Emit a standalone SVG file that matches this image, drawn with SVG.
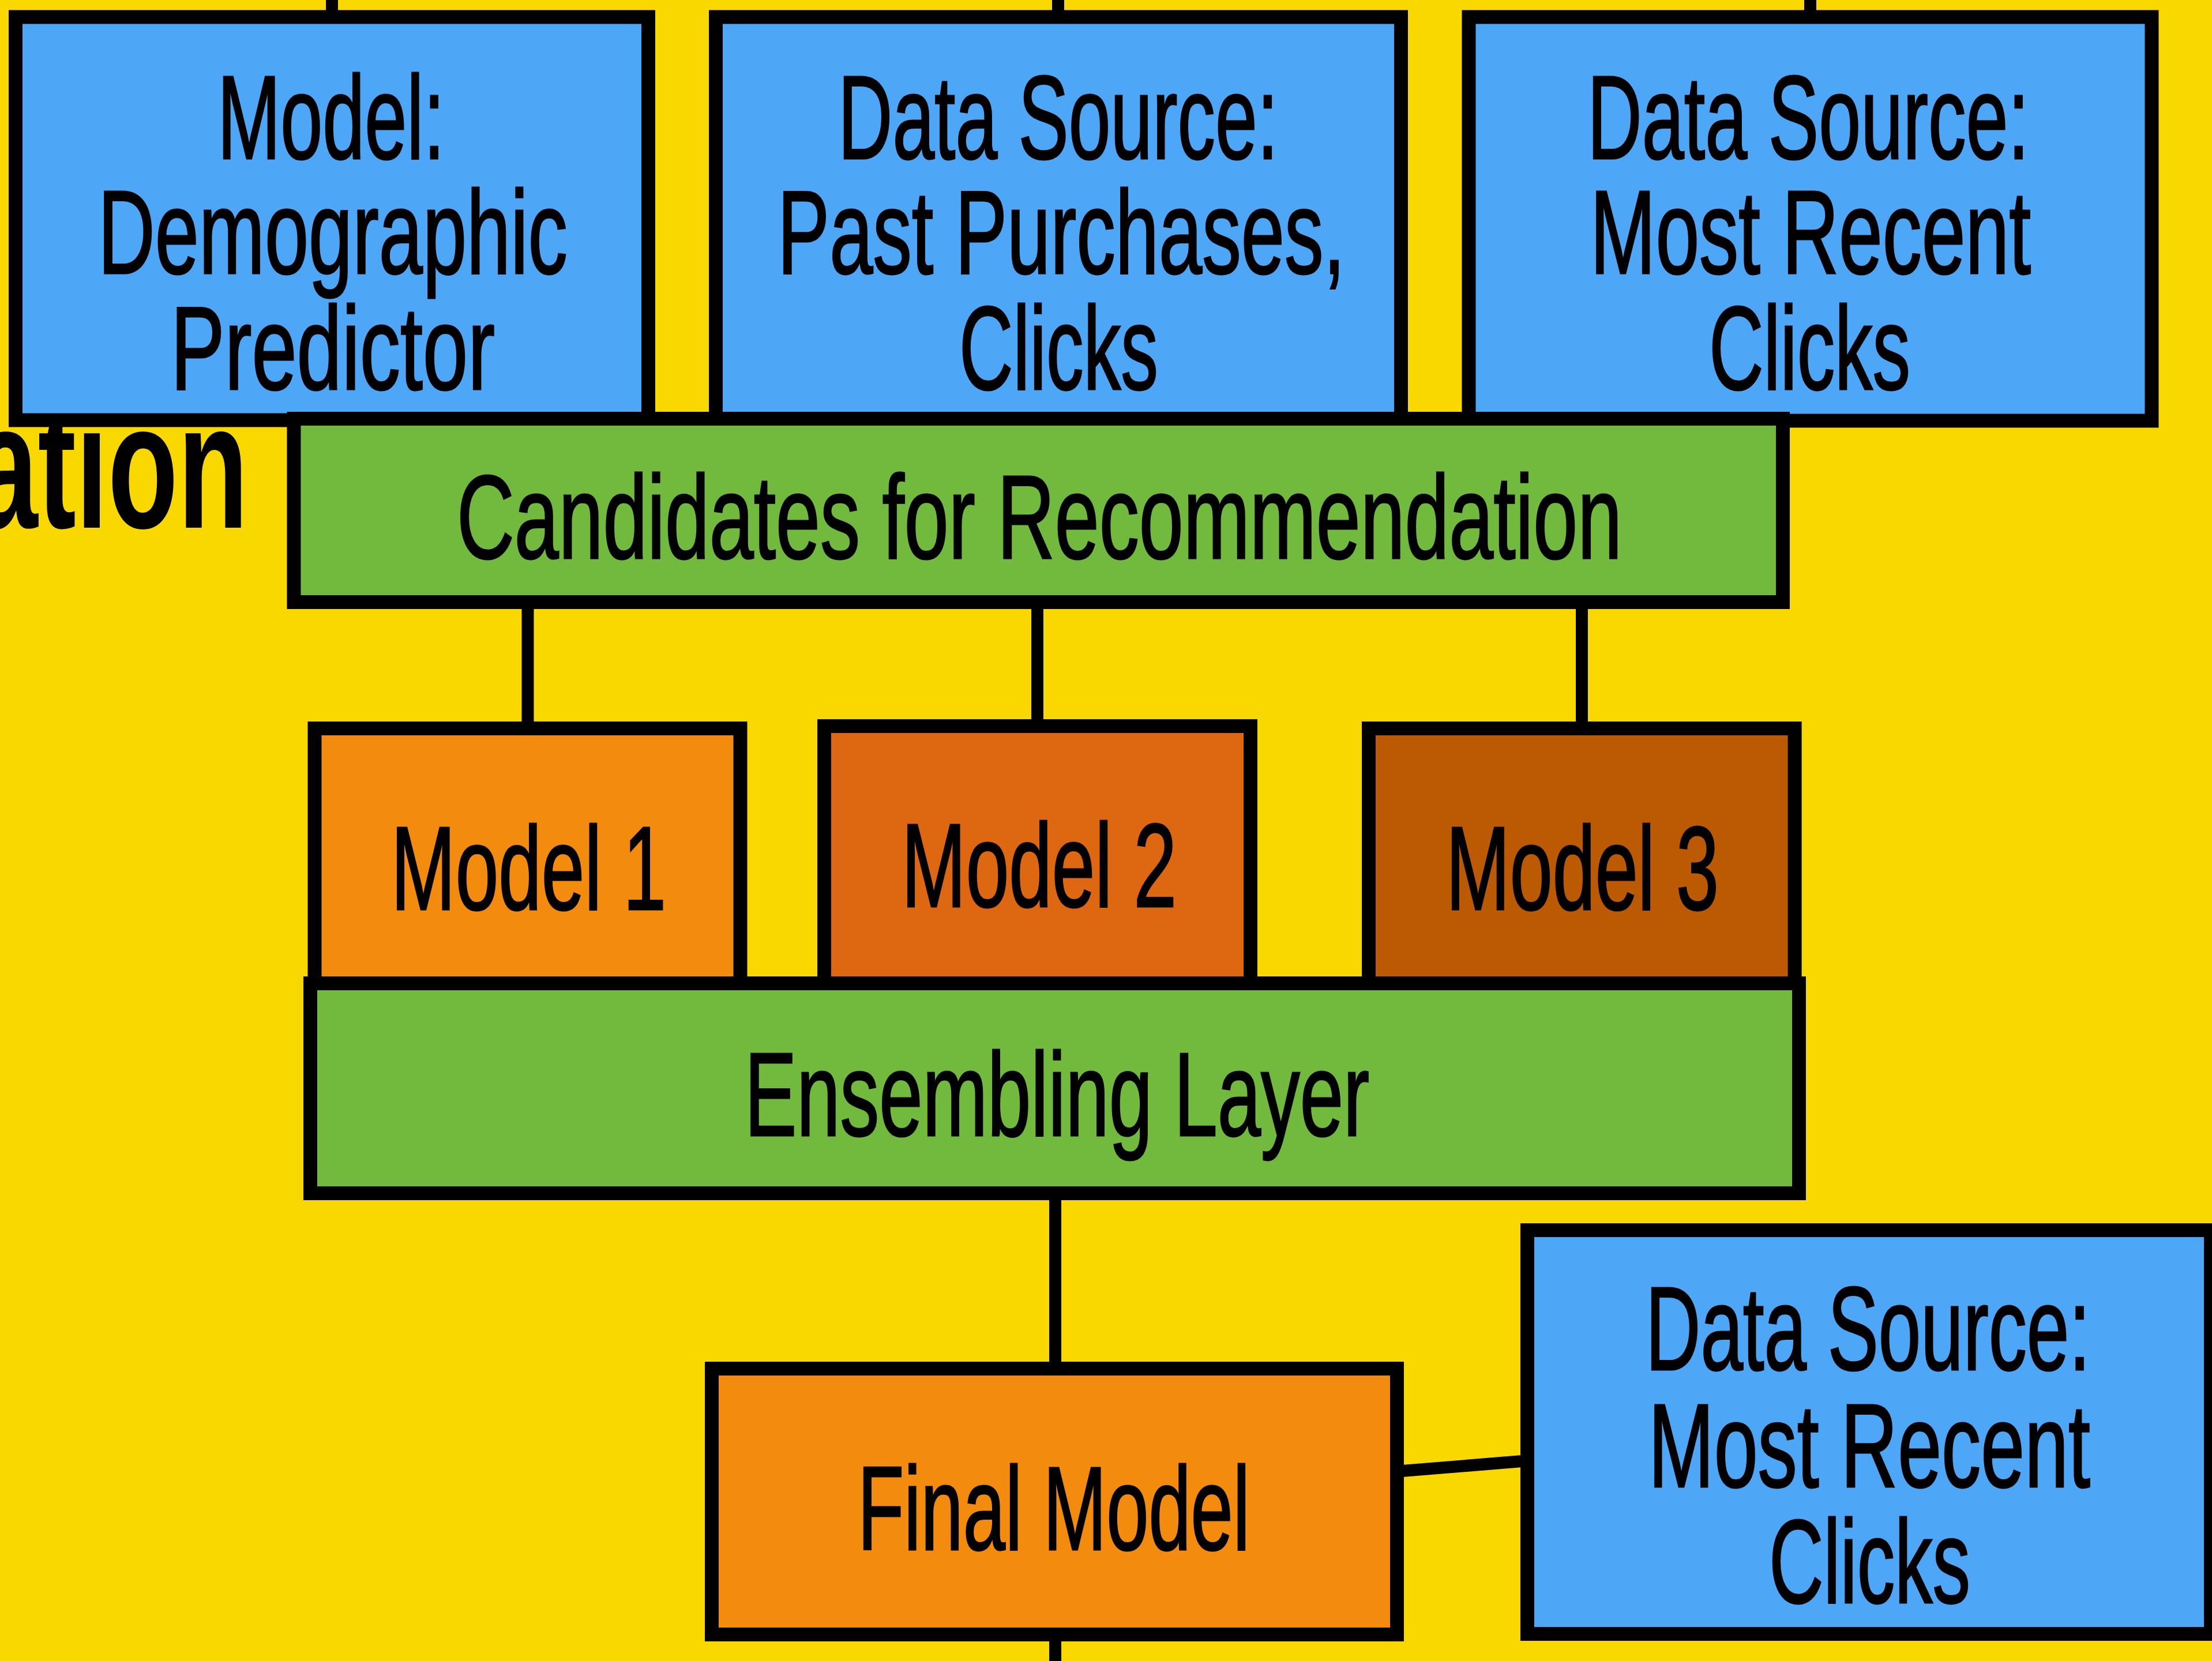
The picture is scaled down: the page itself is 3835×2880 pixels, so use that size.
<svg xmlns="http://www.w3.org/2000/svg" width="3835" height="2880" viewBox="0 0 3835 2880">
<style>
.bg{fill:#F9D800}
.box{stroke:#000;stroke-width:24}
.blue{fill:#4DA6F6}
.green{fill:#71BA3D}
.o1{fill:#F38B0E}
.o2{fill:#DD6811}
.o3{fill:#BC5A03}
.lbl{font-family:"Liberation Sans Narrow","Liberation Sans","DejaVu Sans Condensed",sans-serif;font-size:206px;fill:#000;stroke:#000;stroke-width:3}
.title{font-family:"Liberation Sans","DejaVu Sans",sans-serif;font-weight:bold;font-size:310px;fill:#000}
.conn line{stroke:#000;stroke-width:21}
</style>
<rect class="bg" x="0" y="0" width="3835" height="2880"/>
<text class="title" x="-45" y="915" textLength="475" lengthAdjust="spacingAndGlyphs">ation</text>
<g class="conn" id="connectors">
<line x1="575.5" y1="0" x2="575.5" y2="30"/>
<line x1="1834.5" y1="0" x2="1834.5" y2="30"/>
<line x1="3138.5" y1="0" x2="3138.5" y2="30"/>
<line x1="915" y1="1040" x2="915" y2="1265"/>
<line x1="1798.5" y1="1040" x2="1798.5" y2="1260"/>
<line x1="2742.5" y1="1040" x2="2742.5" y2="1265"/>
<line x1="1829.5" y1="2070" x2="1829.5" y2="2375"/>
<line x1="1829.5" y1="2830" x2="1829.5" y2="2880"/>
<line x1="2425" y1="2551" x2="2645" y2="2533"/>
</g>
<g id="model-demographic">
<rect class="box blue" x="27" y="29.5" width="1097" height="699"/>
<text class="lbl" x="377" y="275" textLength="394" lengthAdjust="spacingAndGlyphs">Model:</text>
<text class="lbl" x="170" y="474" textLength="814" lengthAdjust="spacingAndGlyphs">Demographic</text>
<text class="lbl" x="296" y="675" textLength="562" lengthAdjust="spacingAndGlyphs">Predictor</text>
</g>
<g id="ds-past-purchases">
<rect class="box blue" x="1241" y="29.5" width="1188" height="699"/>
<text class="lbl" x="1453" y="275" textLength="763" lengthAdjust="spacingAndGlyphs">Data Source:</text>
<text class="lbl" x="1348" y="474" textLength="984" lengthAdjust="spacingAndGlyphs">Past Purchases,</text>
<text class="lbl" x="1663" y="675" textLength="345" lengthAdjust="spacingAndGlyphs">Clicks</text>
</g>
<g id="ds-recent-clicks-top">
<rect class="box blue" x="2546.5" y="29.5" width="1184" height="700"/>
<text class="lbl" x="2752" y="275" textLength="766" lengthAdjust="spacingAndGlyphs">Data Source:</text>
<text class="lbl" x="2757" y="474" textLength="764" lengthAdjust="spacingAndGlyphs">Most Recent</text>
<text class="lbl" x="2963" y="675" textLength="349" lengthAdjust="spacingAndGlyphs">Clicks</text>
</g>
<g id="candidates">
<rect class="box green" x="509.5" y="726" width="2581.5" height="318"/>
<text class="lbl" x="792" y="968" textLength="2020" lengthAdjust="spacingAndGlyphs">Candidates for Recommendation</text>
</g>
<g id="model-1">
<rect class="box o1" x="545.5" y="1263" width="738" height="460"/>
<text class="lbl" x="678" y="1577" textLength="477" lengthAdjust="spacingAndGlyphs">Model 1</text>
</g>
<g id="model-2">
<rect class="box o2" x="1429" y="1259" width="739" height="464"/>
<text class="lbl" x="1563" y="1572" textLength="477" lengthAdjust="spacingAndGlyphs">Model 2</text>
</g>
<g id="model-3">
<rect class="box o3" x="2373" y="1263" width="738.6" height="460"/>
<text class="lbl" x="2507" y="1577" textLength="473" lengthAdjust="spacingAndGlyphs">Model 3</text>
</g>
<g id="ensembling">
<rect class="box green" x="538" y="1705" width="2581" height="364"/>
<text class="lbl" x="1291" y="1969" textLength="1083" lengthAdjust="spacingAndGlyphs">Ensembling Layer</text>
</g>
<g id="final-model">
<rect class="box o1" x="1234" y="2373" width="1188" height="461"/>
<text class="lbl" x="1487" y="2687" textLength="680" lengthAdjust="spacingAndGlyphs">Final Model</text>
</g>
<g id="ds-recent-clicks-bottom">
<rect class="box blue" x="2648" y="2133" width="1185" height="700"/>
<text class="lbl" x="2853" y="2375" textLength="771" lengthAdjust="spacingAndGlyphs">Data Source:</text>
<text class="lbl" x="2858" y="2578" textLength="766" lengthAdjust="spacingAndGlyphs">Most Recent</text>
<text class="lbl" x="3067" y="2779" textLength="349" lengthAdjust="spacingAndGlyphs">Clicks</text>
</g>
</svg>
